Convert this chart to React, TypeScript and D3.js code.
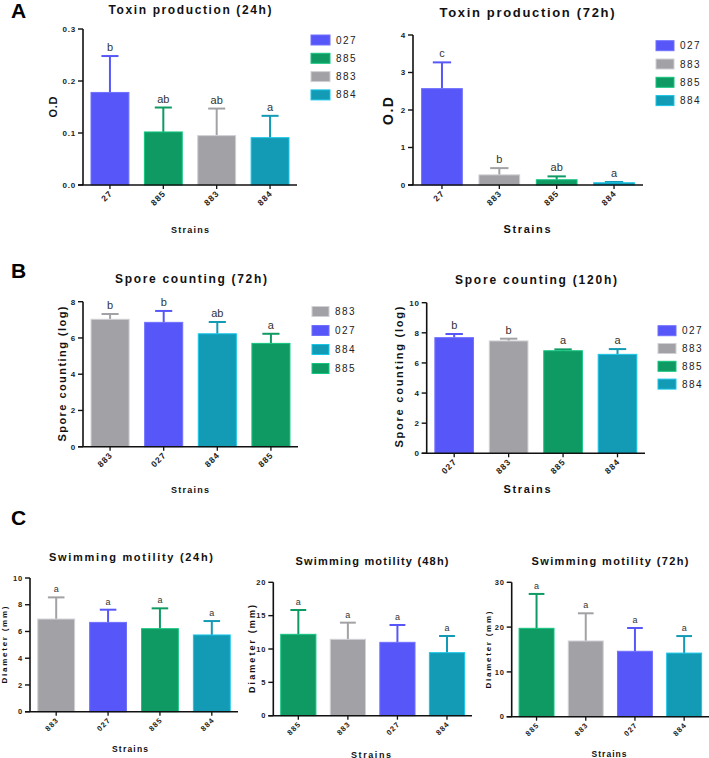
import React from "react";
import * as d3 from "d3";

// ---------- DATA ----------
const colorByStrain: Record<string, string> = {
  "027": "#5757F9",
  "27": "#5757F9",
  "885": "#0F9A63",
  "883": "#A2A2A6",
  "884": "#139AB5",
};

const toxin24Strains = ["27", "885", "883", "884"];
const toxin24Legend = ["027", "885", "883", "884"];
const toxin24Mean = [0.178, 0.102, 0.095, 0.091];
const toxin24Err = [0.07, 0.047, 0.052, 0.042];
const toxin24Letters = ["b", "ab", "ab", "a"];
const toxin24Ticks = [0, 0.1, 0.2, 0.3];

const toxin72Strains = ["27", "883", "885", "884"];
const toxin72Legend = ["027", "883", "885", "884"];
const toxin72Mean = [2.57, 0.27, 0.14, 0.06];
const toxin72Err = [0.7, 0.18, 0.09, 0.02];
const toxin72Letters = ["c", "b", "ab", "a"];
const toxin72Ticks = [0, 1, 2, 3, 4];

const spore72Strains = ["883", "027", "884", "885"];
const spore72Legend = ["883", "027", "884", "885"];
const spore72Mean = [7.03, 6.86, 6.23, 5.7];
const spore72Err = [0.29, 0.63, 0.65, 0.53];
const spore72Letters = ["b", "b", "ab", "a"];
const spore72Ticks = [0, 2, 4, 6, 8];

const spore120Strains = ["027", "883", "885", "884"];
const spore120Legend = ["027", "883", "885", "884"];
const spore120Mean = [7.68, 7.46, 6.81, 6.57];
const spore120Err = [0.24, 0.15, 0.09, 0.35];
const spore120Letters = ["b", "b", "a", "a"];
const spore120Ticks = [0, 2, 4, 6, 8, 10];

const swim24Strains = ["883", "027", "885", "884"];
const swim24Mean = [6.93, 6.68, 6.21, 5.74];
const swim24Err = [1.62, 0.95, 1.52, 1.04];
const swim24Letters = ["a", "a", "a", "a"];
const swim24Ticks = [0, 2, 4, 6, 8, 10];

const swim48Strains = ["885", "883", "027", "884"];
const swim48Mean = [12.2, 11.45, 11.0, 9.45];
const swim48Err = [3.65, 2.5, 2.6, 2.5];
const swim48Letters = ["a", "a", "a", "a"];
const swim48Ticks = [0, 5, 10, 15, 20];

const swim72Strains = ["885", "883", "027", "884"];
const swim72Mean = [19.73, 16.9, 14.6, 14.2];
const swim72Err = [7.67, 6.18, 5.2, 3.8];
const swim72Letters = ["a", "a", "a", "a"];
const swim72Ticks = [0, 10, 20, 30];

// ---------- COMPONENTS ----------
const FONT = "'Liberation Sans', Arial, Helvetica, sans-serif";

type PanelProps = {
  cats: string[];
  means: number[];
  errs: number[];
  letters: string[];
  ticks: number[];
  fmt: (v: number) => string;
  legend?: string[];
  x0: number; x1: number; yTop: number; yZero: number;
  title: string; titleX: number; titleY: number; titleSize: number; titleLen: number;
  yLabel: string; yLabelX: number; yLabelY: number; yLabelSize: number; yLabelLen: number;
  xLabelX: number; xLabelY: number; xLabelSize: number; xLabelLen: number;
  tickSize: number; catSize: number; letterSize: number;
  legendX?: number; legendY?: number; legendStep?: number; legendW?: number; legendSize?: number;
};

function Panel(p: PanelProps) {
  const x = d3.scaleBand<string>().domain(p.cats).range([p.x0, p.x1]).paddingInner(0.29).paddingOuter(0.15);
  const yMax = p.ticks[p.ticks.length - 1];
  const y = d3.scaleLinear().domain([0, yMax]).range([p.yZero, p.yTop]);
  const bw = x.bandwidth();
  const capW = bw * 0.45;
  return (
    <g fontFamily={FONT}>
      <text x={p.titleX} y={p.titleY} textAnchor="middle" fontWeight="bold" fontSize={p.titleSize}
        textLength={p.titleLen} lengthAdjust="spacing" fill="#111">{p.title}</text>
      {p.cats.map((c, i) => {
        const col = colorByStrain[c];
        const cx = (x(c) as number) + bw / 2;
        const top = y(p.means[i]);
        const et = y(p.means[i] + p.errs[i]);
        const light = d3.color(col)!.brighter(0.7).formatHex();
        return (
          <g key={c}>
            <line x1={cx} x2={cx} y1={top} y2={et} stroke={col} strokeWidth={2} />
            <line x1={cx - capW / 2} x2={cx + capW / 2} y1={et} y2={et} stroke={col} strokeWidth={2} />
            <rect x={x(c)} y={top} width={bw} height={p.yZero - top} fill={col} stroke={light} strokeWidth={1} />
            <text x={cx} y={et - 5} textAnchor="middle" fontSize={p.letterSize} fill="#333">{p.letters[i]}</text>
            <line x1={cx} x2={cx} y1={p.yZero} y2={p.yZero + 4} stroke="#111" strokeWidth={1.3} />
            <g transform={`translate(${cx + 3},${p.yZero + 9})`}>
              <g transform="rotate(-45)">
                <text x={0} y={0} textAnchor="end" fontSize={p.catSize} fontWeight="bold" fill="#222"
                  letterSpacing={1}>{c}</text>
              </g>
            </g>
          </g>
        );
      })}
      {/* axes */}
      <line x1={p.x0} x2={p.x0} y1={p.yTop} y2={p.yZero} stroke="#111" strokeWidth={1.6} />
      <line x1={p.x0 - 5} x2={p.x1} y1={p.yZero} y2={p.yZero} stroke="#111" strokeWidth={1.6} />
      {p.ticks.map((t) => (
        <g key={t}>
          <line x1={p.x0 - 5} x2={p.x0} y1={y(t)} y2={y(t)} stroke="#111" strokeWidth={1.4} />
          <text x={p.x0 - 7} y={y(t)} dy="0.35em" textAnchor="end" fontSize={p.tickSize} fontWeight="bold"
            fill="#222" letterSpacing={0.8}>{p.fmt(t)}</text>
        </g>
      ))}
      <g transform={`translate(${p.yLabelX},${p.yLabelY})`}>
        <g transform="rotate(-90)">
          <text x={0} y={0} textAnchor="middle" dy="0.35em"
            fontSize={p.yLabelSize} fontWeight="bold" fill="#111" textLength={p.yLabelLen} lengthAdjust="spacing">{p.yLabel}</text>
        </g>
      </g>
      <text x={p.xLabelX} y={p.xLabelY} textAnchor="middle" fontSize={p.xLabelSize} fontWeight="bold" fill="#111"
        textLength={p.xLabelLen} lengthAdjust="spacing">Strains</text>
      {p.legend && p.legend.map((l, i) => {
        const cy = (p.legendY as number) + i * (p.legendStep as number);
        const col = colorByStrain[l];
        return (
          <g key={l}>
            <rect x={p.legendX} y={cy - 5} width={p.legendW} height={10} fill={col}
              stroke={d3.color(col)!.brighter(0.7).formatHex()} strokeWidth={1} />
            <text x={(p.legendX as number) + (p.legendW as number) + 6} y={cy} dy="0.35em" fontSize={p.legendSize}
              fill="#222" letterSpacing={1.5}>{l}</text>
          </g>
        );
      })}
    </g>
  );
}

const f1 = d3.format(".1f");
const f0 = d3.format("d");

export default function App() {
  return (
    <svg width={709} height={758} style={{ position: "absolute", left: 0, top: 0, background: "#fff" }}>
      <rect width={709} height={758} fill="#fff" />
      <text x={11} y={18} fontFamily={FONT} fontWeight="bold" fontSize={21}>A</text>
      <text x={11} y={278} fontFamily={FONT} fontWeight="bold" fontSize={21}>B</text>
      <text x={11} y={525} fontFamily={FONT} fontWeight="bold" fontSize={21}>C</text>

      <Panel cats={toxin24Strains} means={toxin24Mean} errs={toxin24Err} letters={toxin24Letters}
        ticks={toxin24Ticks} fmt={f1} legend={toxin24Legend}
        x0={83} x1={297} yTop={29} yZero={185}
        title="Toxin production (24h)" titleX={190} titleY={14} titleSize={12} titleLen={163}
        yLabel="O.D" yLabelX={53} yLabelY={107} yLabelSize={11} yLabelLen={21}
        xLabelX={190} xLabelY={233} xLabelSize={9} xLabelLen={38}
        tickSize={8} catSize={8.5} letterSize={11}
        legendX={311} legendY={40} legendStep={18.3} legendW={19} legendSize={10} />

      <Panel cats={toxin72Strains} means={toxin72Mean} errs={toxin72Err} letters={toxin72Letters}
        ticks={toxin72Ticks} fmt={f0} legend={toxin72Legend}
        x0={413} x1={643} yTop={35} yZero={185}
        title="Toxin production (72h)" titleX={527} titleY={17} titleSize={13} titleLen={175}
        yLabel="O.D" yLabelX={388} yLabelY={111} yLabelSize={14} yLabelLen={28}
        xLabelX={527} xLabelY={233} xLabelSize={11} xLabelLen={47}
        tickSize={8} catSize={8.5} letterSize={11}
        legendX={656} legendY={45.7} legendStep={18.3} legendW={18} legendSize={10} />

      <Panel cats={spore72Strains} means={spore72Mean} errs={spore72Err} letters={spore72Letters}
        ticks={spore72Ticks} fmt={f0} legend={spore72Legend}
        x0={83} x1={298} yTop={301.7} yZero={446.7}
        title="Spore counting (72h)" titleX={191} titleY={283} titleSize={12} titleLen={152}
        yLabel="Spore counting (log)" yLabelX={62} yLabelY={374} yLabelSize={11} yLabelLen={135}
        xLabelX={190} xLabelY={493} xLabelSize={9} xLabelLen={38}
        tickSize={8} catSize={8.5} letterSize={11}
        legendX={312} legendY={311.5} legendStep={19} legendW={17} legendSize={10} />

      <Panel cats={spore120Strains} means={spore120Mean} errs={spore120Err} letters={spore120Letters}
        ticks={spore120Ticks} fmt={f0} legend={spore120Legend}
        x0={426.7} x1={645} yTop={302.7} yZero={453.3}
        title="Spore counting (120h)" titleX={536} titleY={284} titleSize={12} titleLen={162}
        yLabel="Spore counting (log)" yLabelX={399} yLabelY={377} yLabelSize={11} yLabelLen={141}
        xLabelX={527} xLabelY={493} xLabelSize={11} xLabelLen={47}
        tickSize={8} catSize={8.5} letterSize={11}
        legendX={658} legendY={330.7} legendStep={17.8} legendW={18} legendSize={10} />

      <Panel cats={swim24Strains} means={swim24Mean} errs={swim24Err} letters={swim24Letters}
        ticks={swim24Ticks} fmt={f0}
        x0={30} x1={238} yTop={578} yZero={711.7}
        title="Swimming motility (24h)" titleX={131} titleY={561} titleSize={11} titleLen={164}
        yLabel="Diameter (mm)" yLabelX={4} yLabelY={645} yLabelSize={8} yLabelLen={77}
        xLabelX={130} xLabelY={752} xLabelSize={8.5} xLabelLen={36}
        tickSize={7.5} catSize={7.5} letterSize={9} />

      <Panel cats={swim48Strains} means={swim48Mean} errs={swim48Err} letters={swim48Letters}
        ticks={swim48Ticks} fmt={f0}
        x0={273.3} x1={472} yTop={582.3} yZero={715.7}
        title="Swimming motility (48h)" titleX={372} titleY={565} titleSize={11} titleLen={153}
        yLabel="Diameter (mm)" yLabelX={251.7} yLabelY={649} yLabelSize={9} yLabelLen={88}
        xLabelX={371} xLabelY={757.5} xLabelSize={9} xLabelLen={40}
        tickSize={7.5} catSize={7.5} letterSize={9} />

      <Panel cats={swim72Strains} means={swim72Mean} errs={swim72Err} letters={swim72Letters}
        ticks={swim72Ticks} fmt={f0}
        x0={511.7} x1={709} yTop={582.3} yZero={716.7}
        title="Swimming motility (72h)" titleX={610} titleY={565} titleSize={11} titleLen={157}
        yLabel="Diameter (mm)" yLabelX={488.3} yLabelY={650} yLabelSize={8} yLabelLen={77}
        xLabelX={609} xLabelY={756.5} xLabelSize={8.5} xLabelLen={35}
        tickSize={7.5} catSize={7.5} letterSize={9} />
    </svg>
  );
}
